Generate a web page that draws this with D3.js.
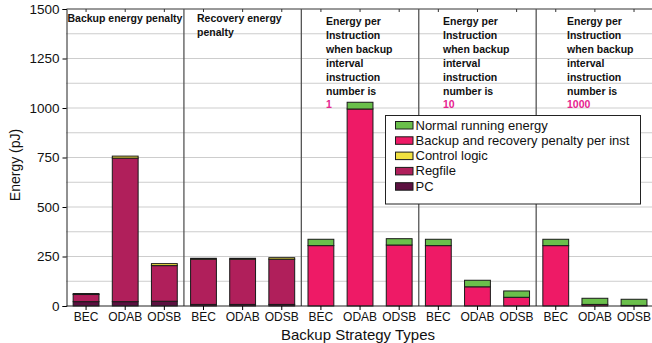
<!DOCTYPE html>
<html>
<head>
<meta charset="utf-8">
<script src="https://cdn.jsdelivr.net/npm/d3@7/dist/d3.min.js"></script>
<style>
  html, body { margin: 0; padding: 0; background: #fff; }
  svg { display: block; font-family: "Liberation Sans", Arial, sans-serif; }
</style>
</head>
<body>
<svg id="chart" width="652" height="343"></svg>
<script>
// Backup strategies, repeated for each of the five panels
const categories = ["BEC", "ODAB", "ODSB", "BEC", "ODAB", "ODSB", "BEC", "ODAB", "ODSB",
                    "BEC", "ODAB", "ODSB", "BEC", "ODAB", "ODSB"];

// Stacked energy components (pJ), bottom to top
const pc       = [22, 22, 24,   8,   8,   8,   0,   0,   0,   0,  0,  0,   0,  0,  0];
const regfile  = [36, 725, 180, 228, 228, 228, 0,   0,   0,   0,  0,  0,   0,  0,  0];
const control  = [5,  10,  10,  5,   5,   8,   0,   0,   0,   0,  0,  0,   0,  0,  0];
const penalty  = [0,  0,   0,   0,   0,   0,   305, 995, 308, 305, 97, 44, 305, 8,  3];
const normal   = [0,  0,   0,   0,   0,   0,   32,  34,  32,  32, 33, 32, 32,  31, 31];

const seriesNames = ["PC", "Regfile", "Control logic", "Backup and recovery penalty per inst", "Normal running energy"];
const seriesValues = [pc, regfile, control, penalty, normal];
const seriesColors = ["#5c1040", "#b01f5b", "#f0e040", "#ee1a66", "#6abf4b"];

const yTicks = [0, 250, 500, 750, 1000, 1250, 1500];
const gridValues = d3.range(0, 1501, 125);

// Panel headings and the highlighted interval value
const panels = [
  { lines: ["Backup energy penalty"], value: null },
  { lines: ["Recovery energy", "penalty"], value: null },
  { lines: ["Energy per", "Instruction", "when backup", "interval", "instruction", "number is"], value: "1" },
  { lines: ["Energy per", "Instruction", "when backup", "interval", "instruction", "number is"], value: "10" },
  { lines: ["Energy per", "Instruction", "when backup", "interval", "instruction", "number is"], value: "1000" }
];

const svg = d3.select("#chart");
const plotLeft = 66.5, plotRight = 653.6, plotTop = 9, plotBottom = 306;

const x = d3.scaleBand().domain(d3.range(categories.length)).range([plotLeft, plotRight]).paddingInner(0.34).paddingOuter(0.17);
const y = d3.scaleLinear().domain([0, 1500]).range([plotBottom, plotTop]);

// Dotted gridlines every 125 pJ
svg.append("g").selectAll("line").data(gridValues.filter(v => v > 0 && v < 1500)).join("line")
  .attr("x1", plotLeft).attr("x2", 652)
  .attr("y1", d => y(d)).attr("y2", d => y(d))
  .attr("stroke", "#9a9a9a").attr("stroke-width", 1).attr("stroke-dasharray", "1,1");

// Top frame line
svg.append("line").attr("x1", plotLeft).attr("x2", 652).attr("y1", plotTop).attr("y2", plotTop)
  .attr("stroke", "#333").attr("stroke-width", 1);
svg.append("g").selectAll("line").data(d3.range(categories.length)).join("line")
  .attr("x1", i => x(i) + x.bandwidth() / 2).attr("x2", i => x(i) + x.bandwidth() / 2)
  .attr("y1", plotTop).attr("y2", plotTop + 3).attr("stroke", "#333");

// Panel separators
const step = x.step();
svg.append("g").selectAll("line").data([3, 6, 9, 12]).join("line")
  .attr("x1", i => x(i) - step * x.paddingInner() / 2).attr("x2", i => x(i) - step * x.paddingInner() / 2)
  .attr("y1", plotTop).attr("y2", plotBottom)
  .attr("stroke", "#555").attr("stroke-width", 1.3);

// Stacked bars
const rows = categories.map((c, i) => {
  const r = { i };
  seriesNames.forEach((n, k) => r[n] = seriesValues[k][i]);
  return r;
});
const stacked = d3.stack().keys(seriesNames)(rows);

svg.append("g").selectAll("g").data(stacked).join("g")
  .attr("fill", (d, k) => seriesColors[k])
  .selectAll("rect").data(d => d.filter(s => s[1] - s[0] > 0)).join("rect")
  .attr("x", d => x(d.data.i))
  .attr("width", x.bandwidth())
  .attr("y", d => y(d[1]))
  .attr("height", d => y(d[0]) - y(d[1]))
  .attr("stroke", "#1a1a1a").attr("stroke-width", 1);

// Y axis
const yAxis = svg.append("g").attr("transform", `translate(${plotLeft},0)`)
  .call(d3.axisLeft(y).tickValues(yTicks).tickFormat(d3.format("d")).tickSize(4).tickPadding(3));
yAxis.select(".domain").attr("stroke", "#222");
yAxis.selectAll("text").attr("font-size", 13.5).attr("fill", "#111");

// X axis
const xAxis = svg.append("g").attr("transform", `translate(0,${plotBottom})`)
  .call(d3.axisBottom(x).tickFormat(i => categories[i]).tickSize(4).tickPadding(2));
xAxis.select(".domain").attr("stroke", "#222").attr("d", `M${plotLeft},0H652`);
xAxis.selectAll("text").attr("font-size", 12).attr("fill", "#111");

// Axis titles
svg.append("text").attr("x", 358).attr("y", 340).attr("text-anchor", "middle")
  .attr("font-size", 15).attr("fill", "#111").text("Backup Strategy Types");
svg.append("text").attr("transform", "translate(20,165) rotate(-90)").attr("text-anchor", "middle")
  .attr("font-size", 14).attr("fill", "#111").text("Energy (pJ)");

// Panel headings
const headX = [67.5, 197, 326, 443, 567];
panels.forEach((p, k) => {
  const base = k < 2 ? 22 : 25;
  const t = svg.append("text").attr("font-size", 10.5).attr("font-weight", "bold").attr("fill", "#111");
  p.lines.forEach((l, j) => {
    t.append("tspan").attr("x", headX[k]).attr("y", base + j * 13.9).text(l);
  });
  if (p.value) {
    svg.append("text").attr("x", headX[k]).attr("y", base + p.lines.length * 13.9)
      .attr("font-size", 10.5).attr("font-weight", "bold").attr("fill", "#e6238f").text(p.value);
  }
});

// Legend
const lg = svg.append("g");
lg.append("rect").attr("x", 385.5).attr("y", 115.5).attr("width", 255).attr("height", 88.5)
  .attr("fill", "#fff").attr("stroke", "#222").attr("stroke-width", 1);
const legendOrder = [4, 3, 2, 1, 0];
legendOrder.forEach((k, j) => {
  const cy = 125 + j * 15.3;
  lg.append("rect").attr("x", 395.5).attr("y", cy - 3.5).attr("width", 17.5).attr("height", 7.5)
    .attr("fill", seriesColors[k]).attr("stroke", "#1a1a1a").attr("stroke-width", 1);
  lg.append("text").attr("x", 415.5).attr("y", cy + 4.5).attr("font-size", 13).attr("fill", "#111")
    .text(seriesNames[k]);
});
</script>
</body>
</html>
